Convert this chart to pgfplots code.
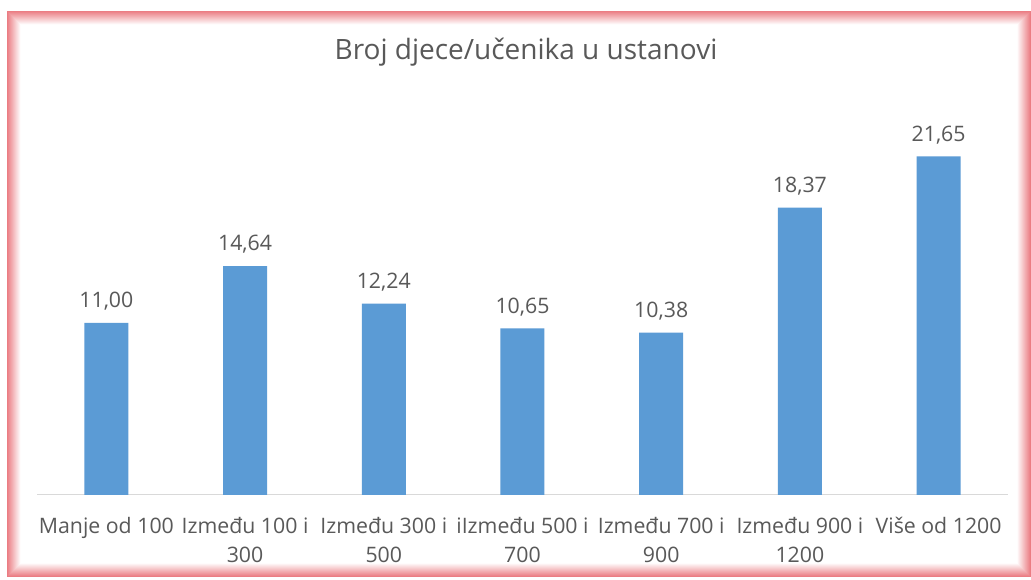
\documentclass[border=0pt]{standalone}
\usepackage{pgfplots}
\pgfplotsset{compat=1.18}
\usepackage{fontspec}
\setmainfont{Open Sans}
\definecolor{barblue}{HTML}{5B9BD5}
\definecolor{txtgray}{HTML}{595959}
\definecolor{axgray}{HTML}{D9D9D9}
\definecolor{glow}{HTML}{E65C64}
\begin{document}
\begin{tikzpicture}[x=1pt,y=1pt]
\path[fill=white] (0,0) rectangle (1031,580);
% glowing frame
\foreach \i in {0,...,15}{
  \pgfmathsetmacro{\c}{max(0,80-6*\i)}
  \draw[line width=1.05pt, color=glow!\c!white] (7+\i+0.5,3+\i+0.5) rectangle (1031-\i-0.5,569-\i-0.5);
}
\node[text=txtgray, font=\fontsize{28}{32}\selectfont] at (526,528) {Broj djece/učenika u ustanovi};
\begin{axis}[
  at={(37pt,85pt)}, anchor=south west,
  scale only axis, width=971pt, height=391pt,
  xmin=-0.5, xmax=6.5, ymin=0, ymax=25,
  axis line style={draw=none},
  axis x line*=bottom,
  ytick=\empty,
  xtick={0,...,6},
  xticklabels={Manje od 100, Između 100 i\\300, Između 300 i\\500, iIzmeđu 500 i\\700, Između 700 i\\900, Između 900 i\\1200, Više od 1200},
  xticklabel style={align=center, text=txtgray, font=\fontsize{21.3}{29}\selectfont, yshift=-19pt, anchor=north},
  major tick length=0pt,
  ybar, bar width=44pt,
  nodes near coords,
  every node near coord/.append style={text=txtgray, font=\fontsize{21.3}{24}\selectfont, yshift=9pt},
  /pgf/number format/.cd, fixed, fixed zerofill, precision=2, use comma, assume math mode=true,
]
\draw[axgray, line width=1.2pt] (axis cs:-0.5,0) -- (axis cs:6.5,0);
\addplot[fill=barblue, draw=none] coordinates {(0,11.00) (1,14.64) (2,12.24) (3,10.65) (4,10.38) (5,18.37) (6,21.65)};
\end{axis}
\end{tikzpicture}
\end{document}
